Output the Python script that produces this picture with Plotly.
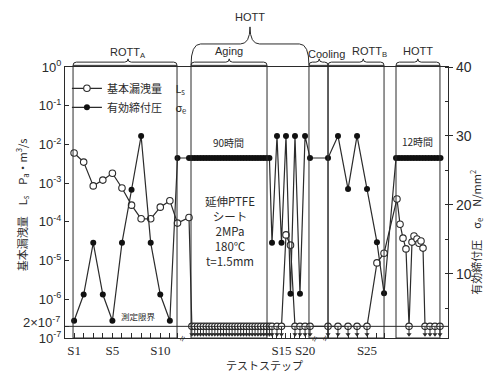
import plotly.graph_objects as go

LIMIT = 2e-7  # detection limit of the leak measurement, Pa·m3/s

# ---- ROTT_A (S1-S12) ----
rott_a_x = [1, 2, 3, 4, 5, 6, 7, 8, 9, 10, 11, 11.8]
rott_a_leak = [6.0e-3, 3.5e-3, 8.5e-4, 1.2e-3, 1.8e-3, 7.5e-4, 2.7e-4, 1.2e-4, 1.2e-4, 2.4e-4, 3.5e-4, 9.3e-5]
rott_a_sigma = [3.2, 7.0, 14.5, 7.0, 3.2, 14.5, 22.2, 30.0, 14.5, 7.0, 3.2, 26.8]

# ---- Aging, 90 h hold at 180 C ----
aging_x = [13.0, 13.3, 13.6, 13.9, 14.2, 14.5, 14.8, 15.1, 15.4, 15.7, 16.0, 16.3, 16.6, 16.9, 17.2,
           17.5, 17.8, 18.1, 18.4, 18.7, 19.0, 19.3, 19.6, 19.9, 20.2, 20.5, 20.8, 21.1, 21.4]
aging_leak = [1.3e-4] + [LIMIT] * 28
aging_sigma = [26.8] * 29

# ---- HOTT steps (S13-S20) ----
hott_x = [21.67, 22.19, 22.66, 23.13, 23.6, 24.07, 24.59, 25.12]
hott_leak = [LIMIT, LIMIT, LIMIT, 4.6e-5, 2.5e-5, LIMIT, LIMIT, LIMIT]
hott_sigma = [14.5, 30.0, 14.5, 30.0, 7.1, 30.0, 7.1, 30.0]

# ---- Cooling ----
cool_x = [25.64]
cool_leak = [LIMIT]
cool_sigma = [26.8]

# ---- ROTT_B (S21-S27) ----
rott_b_x = [27.52, 28.56, 29.61, 30.55, 31.59, 32.63, 33.37]
rott_b_leak = [LIMIT, LIMIT, LIMIT, LIMIT, LIMIT, 8.7e-6, 1.55e-5]
rott_b_sigma = [26.8, 30.0, 22.3, 30.0, 22.3, 14.6, 7.2]

# ---- HOTT, 12 h hold ----
hold_leak_x = [34.72, 35.04, 35.35, 35.66, 35.98, 36.29, 36.5, 36.81, 37.02, 37.23, 37.44, 37.65,
               38.17, 38.69, 39.21]
hold_leak = [3.9e-4, 8.7e-5, 3.8e-5, 2.0e-5, LIMIT, 3.0e-5, 4.3e-5, 3.6e-5, 2.8e-5, 3.2e-5, 2.1e-5,
             LIMIT, LIMIT, LIMIT, LIMIT]
hold_sigma_x = [34.62, 34.93, 35.24, 35.55, 35.86, 36.17, 36.48, 36.79, 37.1, 37.41, 37.72, 38.03,
                38.34, 38.65, 38.96, 39.27]
hold_sigma = [26.8] * 16

# step labels
step_tick_x = rott_a_x + hott_x + rott_b_x
step_tick_text = ["S1", "", "", "", "S5", "", "", "", "", "S10", "", "",
                  "", "", "S15", "", "", "", "", "S20",
                  "", "", "", "", "S25", "", ""]

# leak axis ticks
leak_tick_vals = [1, 1e-1, 1e-2, 1e-3, 1e-4, 1e-5, 1e-6, 1e-7]
leak_tick_text = ["10<sup>0</sup>", "10<sup>-1</sup>", "10<sup>-2</sup>", "10<sup>-3</sup>",
                  "10<sup>-4</sup>", "10<sup>-5</sup>", "10<sup>-6</sup>", "10<sup>-7</sup>"]

# test phases (start, end on the step axis)
phases = {
    "ROTT_A": (0.89, 11.75),
    "Aging": (13.21, 21.15),
    "Cooling": (25.53, 27.52),
    "ROTT_B": (27.52, 33.37),
    "HOTT": (34.62, 39.21),
}

leak_x = rott_a_x + aging_x + hott_x + cool_x + rott_b_x + hold_leak_x
leak_y = rott_a_leak + aging_leak + hott_leak + cool_leak + rott_b_leak + hold_leak
sig_x = rott_a_x + aging_x + hott_x + cool_x + rott_b_x + hold_sigma_x
sig_y = rott_a_sigma + aging_sigma + hott_sigma + cool_sigma + rott_b_sigma + hold_sigma

below_x = [x for x, v in zip(leak_x, leak_y) if v <= LIMIT]

INK = "#2b2b2b"
SANS = "Liberation Sans, Noto Sans CJK JP"
CJK = "Noto Sans CJK JP, Liberation Sans"

fig = go.Figure()

fig.add_trace(go.Scatter(
    x=sig_x, y=sig_y, yaxis="y2", mode="lines+markers",
    name="有効締付圧　 σ<sub>e</sub>",
    line=dict(color=INK, width=1.2),
    marker=dict(symbol="circle", size=6, color="#111"),
))
fig.add_trace(go.Scatter(
    x=leak_x, y=leak_y, mode="lines+markers",
    name="基本漏洩量　 L<sub>s</sub>",
    line=dict(color=INK, width=1.2),
    marker=dict(symbol="circle", size=6.5, color="white", line=dict(color=INK, width=1.1)),
))
# arrows under readings at the detection limit
fig.add_trace(go.Scatter(
    x=below_x, y=[LIMIT / 1.3] * len(below_x), mode="markers", showlegend=False,
    marker=dict(symbol="line-ns", size=6, line=dict(color=INK, width=1)),
    hoverinfo="skip",
))
fig.add_trace(go.Scatter(
    x=below_x, y=[LIMIT / 1.62] * len(below_x), mode="markers", showlegend=False,
    marker=dict(symbol="triangle-down", size=4.5, color=INK),
    hoverinfo="skip",
))

shapes = []
for name, (x0, x1) in phases.items():
    shapes.append(dict(type="rect", xref="x", yref="paper", x0=x0, x1=x1, y0=0, y1=1.006,
                       line=dict(color=INK, width=1)))
shapes.append(dict(type="line", xref="paper", yref="y", x0=0, x1=1, y0=LIMIT, y1=LIMIT,
                   line=dict(color=INK, width=1)))


def brace(x0, x1, xc, y0, ym, yp, d):
    return (f"M {x0},{y0} Q {x0},{ym} {x0 + d},{ym} L {xc - d},{ym} "
            f"Q {xc},{ym} {xc},{yp} Q {xc},{ym} {xc + d},{ym} L {x1 - d},{ym} "
            f"Q {x1},{ym} {x1},{y0}")


small = dict(y0=1.006, ym=1.018, yp=1.03, d=0.35)
brace_specs = [
    (*phases["ROTT_A"], 6.63),
    (*phases["Aging"], 17.2),
    (*phases["Cooling"], 26.6),
    (*phases["ROTT_B"], 31.2),
    (*phases["HOTT"], 36.9),
]
for x0, x1, xc in brace_specs:
    shapes.append(dict(type="path", xref="x", yref="paper",
                       path=brace(x0, x1, xc, **small), line=dict(color=INK, width=1)))
# HOTT span covering aging through cooling
shapes.append(dict(type="path", xref="x", yref="paper",
                   path=brace(13.21, 25.53, 19.37, 1.006, 1.085, 1.148, 1.0),
                   line=dict(color=INK, width=1)))

ann = []


def label(text, x, y, size=11, xref="x", yref="paper", family=SANS, **kw):
    kw.setdefault("xanchor", "center")
    kw.setdefault("yanchor", "middle")
    ann.append(dict(text=text, x=x, y=y, xref=xref, yref=yref, showarrow=False,
                    font=dict(family=family, size=size, color=INK), **kw))


label("ROTT<sub>A</sub>", 6.63, 1.05)
label("Aging", 17.2, 1.058)
label("Cooling", 25.2, 1.048, xanchor="left")
label("ROTT<sub>B</sub>", 31.8, 1.056)
label("HOTT", 36.95, 1.06)
label("HOTT", 19.37, 1.185)
label("90時間", 17.1, 29.0, size=10, yref="y2", family=CJK)
label("12時間", 36.9, 29.2, size=10, yref="y2", family=CJK)
label("延伸PTFE<br>シート<br>2MPa<br>180℃<br>t=1.5mm", 17.3, 0.395, size=11.5, family=CJK)
label("測定限界", 7.7, -6.699, size=8.5, yref="y", family=CJK, yanchor="bottom", yshift=2)
# 2x10^-7 label beside its tick
label("2×10<sup>-7</sup>", 0.05, -6.699, size=13, yref="y", family="Liberation Sans",
      xanchor="right", xshift=-3, yshift=4)
for bx in (12.27, 26.1, 27.2):
    label("≈", bx, 0, size=10, textangle=-65)
# axis titles
label("基本漏洩量　L<sub>s</sub>　P<sub>a</sub>・m<sup>3</sup>/s", -0.112, 0.49, xref="paper",
      textangle=-90, family=CJK)
label("有効締付圧　σ<sub>e</sub>　N/mm<sup>2</sup>", 1.074, 0.39, size=11, xref="paper",
      textangle=-90, family=CJK)
label("テストステップ", 0.522, -0.1, size=11, xref="paper", family=CJK)

fig.update_layout(
    width=486, height=372,
    margin=dict(l=65, r=38, t=67, b=34),
    paper_bgcolor="white", plot_bgcolor="white",
    showlegend=True,
    legend=dict(x=0.005, y=0.975, xanchor="left", yanchor="top", bgcolor="rgba(0,0,0,0)",
                traceorder="reversed",
                font=dict(family=CJK, size=11, color=INK), itemwidth=30, tracegroupgap=0),
    shapes=shapes, annotations=ann,
    xaxis=dict(range=[0.05, 40.05], showgrid=False, zeroline=False,
               showline=True, mirror=True, linecolor=INK, linewidth=1.2,
               tickmode="array", tickvals=step_tick_x, ticktext=step_tick_text,
               ticks="inside", ticklen=5, tickcolor=INK,
               tickfont=dict(family="Liberation Serif", size=13, color=INK)),
    yaxis=dict(type="log", range=[-7, 0], showgrid=False, zeroline=False,
               showline=True, linecolor=INK, linewidth=1.2,
               tickmode="array",
               tickvals=leak_tick_vals + [LIMIT], ticktext=leak_tick_text + [""],
               ticks="inside", ticklen=4, tickcolor=INK,
               tickfont=dict(family="Liberation Sans", size=13, color=INK)),
    yaxis2=dict(overlaying="y", side="right", range=[0.7, 40], showgrid=False, zeroline=False,
                showline=True, linecolor=INK, linewidth=1.2,
                tickmode="linear", tick0=0, dtick=10,
                ticks="outside", ticklen=4, tickcolor=INK,
                minor=dict(dtick=5, tick0=0, ticks="inside", ticklen=3, tickcolor=INK),
                tickfont=dict(family="Liberation Sans", size=14, color=INK)),
)

fig.write_html("out.html")
